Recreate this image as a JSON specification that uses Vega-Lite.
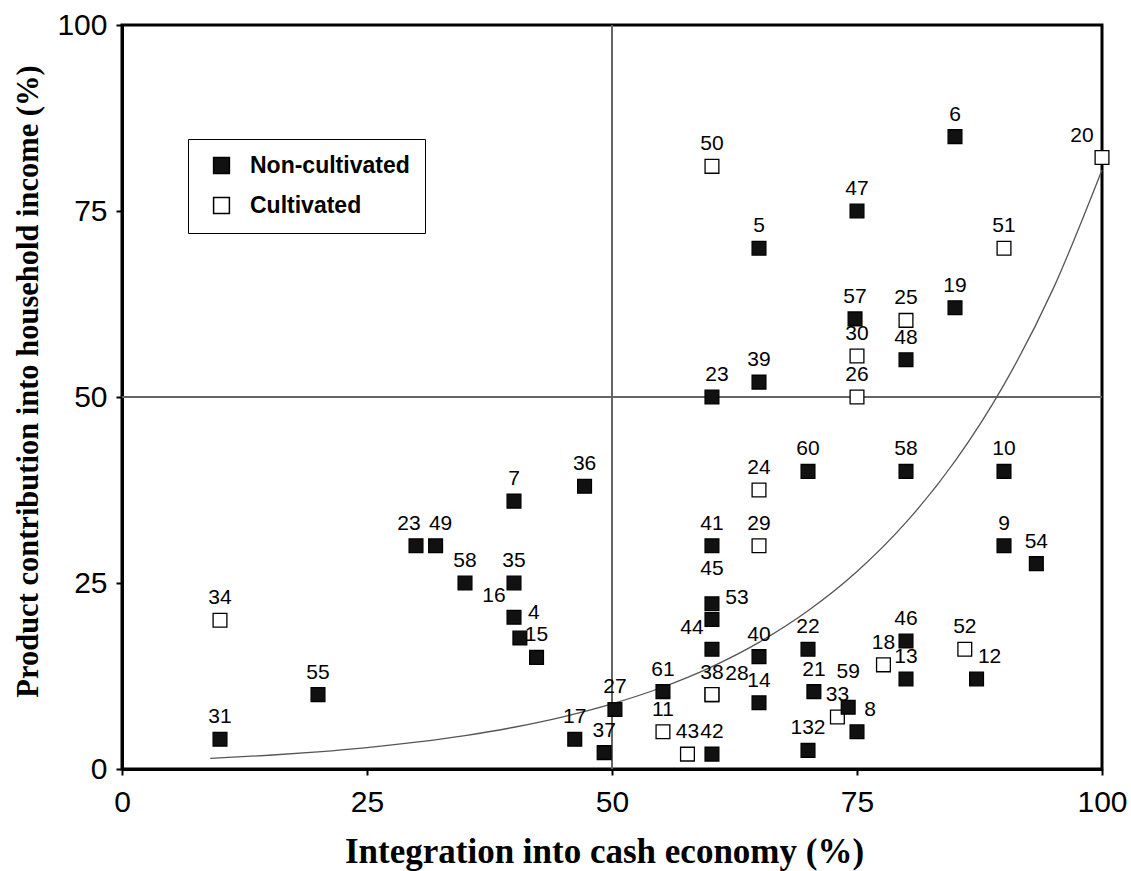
{
  "$schema": "https://vega.github.io/schema/vega-lite/v6.json",
  "width": 980,
  "height": 744,
  "autosize": {"type": "none"},
  "padding": {"left": 122, "top": 25, "right": 29, "bottom": 102},
  "background": "white",
  "config": {
    "view": {"stroke": "black", "strokeWidth": 3},
    "axis": {
      "labelFont": "Liberation Sans",
      "labelFontSize": 30,
      "labelColor": "black",
      "labelFlush": false,
      "labelOverlap": false,
      "tickColor": "black",
      "tickSize": 6,
      "tickWidth": 2,
      "domainColor": "black",
      "domainWidth": 3,
      "grid": false,
      "titleFont": "Liberation Serif",
      "titleFontSize": 32,
      "titleFontWeight": "bold",
      "titleColor": "black"
    }
  },
  "datasets": {
    "points": [
      {"label": "34", "x": 10, "y": 20, "type": "Cultivated"},
      {"label": "11", "x": 55.2, "y": 5, "type": "Cultivated"},
      {"label": "43", "x": 57.7, "y": 2, "type": "Cultivated"},
      {"label": "38", "x": 60.2, "y": 10, "type": "Cultivated"},
      {"label": "28", "x": 60.2, "y": 10, "type": "Cultivated"},
      {"label": "50", "x": 60.2, "y": 81, "type": "Cultivated"},
      {"label": "24", "x": 65, "y": 37.5, "type": "Cultivated"},
      {"label": "29", "x": 65, "y": 30, "type": "Cultivated"},
      {"label": "26", "x": 75, "y": 50, "type": "Cultivated"},
      {"label": "30", "x": 75, "y": 55.5, "type": "Cultivated"},
      {"label": "25", "x": 80, "y": 60.3, "type": "Cultivated"},
      {"label": "33", "x": 73, "y": 7, "type": "Cultivated"},
      {"label": "18", "x": 77.7, "y": 14, "type": "Cultivated"},
      {"label": "52", "x": 86, "y": 16.1, "type": "Cultivated"},
      {"label": "51", "x": 90, "y": 70, "type": "Cultivated"},
      {"label": "20", "x": 100, "y": 82.2, "type": "Cultivated"},
      {"label": "31", "x": 10, "y": 4, "type": "Non-cultivated"},
      {"label": "55", "x": 20, "y": 10, "type": "Non-cultivated"},
      {"label": "23", "x": 30, "y": 30, "type": "Non-cultivated"},
      {"label": "49", "x": 32, "y": 30, "type": "Non-cultivated"},
      {"label": "58", "x": 35, "y": 25, "type": "Non-cultivated"},
      {"label": "7", "x": 40, "y": 36, "type": "Non-cultivated"},
      {"label": "36", "x": 47.2, "y": 38, "type": "Non-cultivated"},
      {"label": "35", "x": 40, "y": 25, "type": "Non-cultivated"},
      {"label": "16", "x": 40, "y": 20.4, "type": "Non-cultivated"},
      {"label": "4", "x": 40.6, "y": 17.6, "type": "Non-cultivated"},
      {"label": "15", "x": 42.3, "y": 15, "type": "Non-cultivated"},
      {"label": "17", "x": 46.2, "y": 4, "type": "Non-cultivated"},
      {"label": "37", "x": 49.2, "y": 2.2, "type": "Non-cultivated"},
      {"label": "27", "x": 50.3, "y": 8, "type": "Non-cultivated"},
      {"label": "61", "x": 55.2, "y": 10.4, "type": "Non-cultivated"},
      {"label": "42", "x": 60.2, "y": 2, "type": "Non-cultivated"},
      {"label": "44", "x": 60.2, "y": 16.1, "type": "Non-cultivated"},
      {"label": "53", "x": 60.2, "y": 20.1, "type": "Non-cultivated"},
      {"label": "45", "x": 60.2, "y": 22.2, "type": "Non-cultivated"},
      {"label": "41", "x": 60.2, "y": 30, "type": "Non-cultivated"},
      {"label": "23", "x": 60.2, "y": 50, "type": "Non-cultivated"},
      {"label": "39", "x": 65, "y": 52, "type": "Non-cultivated"},
      {"label": "5", "x": 65, "y": 70, "type": "Non-cultivated"},
      {"label": "40", "x": 65, "y": 15.1, "type": "Non-cultivated"},
      {"label": "14", "x": 65, "y": 8.9, "type": "Non-cultivated"},
      {"label": "60", "x": 70, "y": 40, "type": "Non-cultivated"},
      {"label": "22", "x": 70, "y": 16.1, "type": "Non-cultivated"},
      {"label": "21", "x": 70.6, "y": 10.4, "type": "Non-cultivated"},
      {"label": "132", "x": 70, "y": 2.5, "type": "Non-cultivated"},
      {"label": "59", "x": 74.1, "y": 8.3, "type": "Non-cultivated"},
      {"label": "8", "x": 75, "y": 5, "type": "Non-cultivated"},
      {"label": "47", "x": 75, "y": 75, "type": "Non-cultivated"},
      {"label": "57", "x": 74.8, "y": 60.5, "type": "Non-cultivated"},
      {"label": "48", "x": 80, "y": 55, "type": "Non-cultivated"},
      {"label": "58", "x": 80, "y": 40, "type": "Non-cultivated"},
      {"label": "46", "x": 80, "y": 17.2, "type": "Non-cultivated"},
      {"label": "13", "x": 80, "y": 12.1, "type": "Non-cultivated"},
      {"label": "6", "x": 85, "y": 85, "type": "Non-cultivated"},
      {"label": "19", "x": 85, "y": 62, "type": "Non-cultivated"},
      {"label": "10", "x": 90, "y": 40, "type": "Non-cultivated"},
      {"label": "9", "x": 90, "y": 30, "type": "Non-cultivated"},
      {"label": "54", "x": 93.3, "y": 27.6, "type": "Non-cultivated"},
      {"label": "12", "x": 87.2, "y": 12.1, "type": "Non-cultivated"}
    ],
    "curve": [
      {"x": 9, "y": 1.42},
      {"x": 15, "y": 1.85},
      {"x": 20, "y": 2.31},
      {"x": 25, "y": 2.88},
      {"x": 30, "y": 3.6},
      {"x": 35, "y": 4.49},
      {"x": 40, "y": 5.61},
      {"x": 45, "y": 7.01},
      {"x": 50, "y": 8.75},
      {"x": 55, "y": 10.92},
      {"x": 60, "y": 13.63},
      {"x": 65, "y": 17.02},
      {"x": 70, "y": 21.26},
      {"x": 75, "y": 26.54},
      {"x": 80, "y": 33.14},
      {"x": 85, "y": 41.37},
      {"x": 90, "y": 51.66},
      {"x": 95, "y": 64.5},
      {"x": 100, "y": 80.5}
    ]
  },
  "data": {"name": "points"},
  "layer": [
    {
      "mark": {"type": "rule", "color": "#666666", "strokeWidth": 1.5},
      "encoding": {"x": {"datum": 50, "type": "quantitative"}}
    },
    {
      "mark": {"type": "rule", "color": "#666666", "strokeWidth": 1.5},
      "encoding": {"y": {"datum": 50, "type": "quantitative"}}
    },
    {
      "data": {"name": "curve"},
      "mark": {"type": "line", "color": "#555555", "strokeWidth": 1.3, "interpolate": "monotone"},
      "encoding": {
        "x": {"field": "x", "type": "quantitative", "title": "Integration into cash economy (%)"},
        "y": {"field": "y", "type": "quantitative", "title": "Product contribution into household income (%)"}
      }
    },
    {
      "mark": {"type": "point", "shape": "square", "filled": true, "size": 190, "stroke": "black", "strokeWidth": 1.3, "opacity": 1, "clip": false},
      "encoding": {
        "x": {
          "field": "x", "type": "quantitative",
          "scale": {"domain": [0, 100], "nice": false},
          "axis": {"values": [0, 25, 50, 75, 100], "labelPadding": 12, "title": "Integration into cash economy (%)", "titleFontSize": 35, "titleY": 93, "titleX": 482, "titleBaseline": "alphabetic"}
        },
        "y": {
          "field": "y", "type": "quantitative",
          "scale": {"domain": [0, 100], "nice": false},
          "axis": {"values": [0, 25, 50, 75, 100], "labelPadding": 9, "title": "Product contribution into household income (%)", "titleFontSize": 30.5, "titleX": -94, "titleY": 356, "titleAngle": -90, "titleBaseline": "middle", "titleAlign": "center"}
        },
        "fill": {
          "field": "type", "type": "nominal",
          "scale": {"domain": ["Non-cultivated", "Cultivated"], "range": ["#111111", "white"]},
          "legend": {
            "orient": "none", "legendX": 66, "legendY": 114, "title": null,
            "strokeColor": "black", "fillColor": "white",
            "padding": 15, "symbolOffset": 7,
            "symbolType": "square", "symbolSize": 250, "symbolStrokeColor": "black", "symbolStrokeWidth": 1.5,
            "labelFont": "Liberation Sans", "labelFontWeight": "bold", "labelFontSize": 23, "labelColor": "black",
            "labelOffset": 17, "rowPadding": 16,
            "labelExpr": "datum.label + '\u00a0\u00a0\u00a0\u00a0'"
          }
        }
      }
    },
    {
      "transform": [{"filter": {"not": {"field": "label", "oneOf": ["16", "44", "20", "4", "12", "8", "53", "28", "45", "59", "23", "49"]}}}],
      "mark": {"type": "text", "font": "Liberation Sans", "fontSize": 21, "color": "black", "baseline": "middle", "align": "center", "dy": -22},
      "encoding": {"x": {"field": "x", "type": "quantitative"}, "y": {"field": "y", "type": "quantitative"}, "text": {"field": "label"}}
    },
    {
      "transform": [{"filter": {"or": [{"field": "label", "equal": "49"}, {"and": [{"field": "label", "equal": "23"}, {"field": "x", "gt": 40}]}]}}],
      "mark": {"type": "text", "font": "Liberation Sans", "fontSize": 21, "color": "black", "baseline": "middle", "align": "center", "dy": -22, "dx": 5},
      "encoding": {"x": {"field": "x", "type": "quantitative"}, "y": {"field": "y", "type": "quantitative"}, "text": {"field": "label"}}
    },
    {
      "transform": [{"filter": {"and": [{"field": "label", "equal": "23"}, {"field": "x", "lt": 40}]}}],
      "mark": {"type": "text", "font": "Liberation Sans", "fontSize": 21, "color": "black", "baseline": "middle", "align": "center", "dy": -22, "dx": -7},
      "encoding": {"x": {"field": "x", "type": "quantitative"}, "y": {"field": "y", "type": "quantitative"}, "text": {"field": "label"}}
    },
    {
      "transform": [{"filter": {"field": "label", "oneOf": ["16", "44", "20"]}}],
      "mark": {"type": "text", "font": "Liberation Sans", "fontSize": 21, "color": "black", "baseline": "middle", "align": "center", "dy": -21, "dx": -20},
      "encoding": {"x": {"field": "x", "type": "quantitative"}, "y": {"field": "y", "type": "quantitative"}, "text": {"field": "label"}}
    },
    {
      "transform": [{"filter": {"field": "label", "oneOf": ["4"]}}],
      "mark": {"type": "text", "font": "Liberation Sans", "fontSize": 21, "color": "black", "baseline": "middle", "align": "center", "dy": -25, "dx": 14},
      "encoding": {"x": {"field": "x", "type": "quantitative"}, "y": {"field": "y", "type": "quantitative"}, "text": {"field": "label"}}
    },
    {
      "transform": [{"filter": {"field": "label", "oneOf": ["12", "8"]}}],
      "mark": {"type": "text", "font": "Liberation Sans", "fontSize": 21, "color": "black", "baseline": "middle", "align": "center", "dy": -22, "dx": 13},
      "encoding": {"x": {"field": "x", "type": "quantitative"}, "y": {"field": "y", "type": "quantitative"}, "text": {"field": "label"}}
    },
    {
      "transform": [{"filter": {"field": "label", "oneOf": ["53", "28"]}}],
      "mark": {"type": "text", "font": "Liberation Sans", "fontSize": 21, "color": "black", "baseline": "middle", "align": "center", "dy": -21, "dx": 25},
      "encoding": {"x": {"field": "x", "type": "quantitative"}, "y": {"field": "y", "type": "quantitative"}, "text": {"field": "label"}}
    },
    {
      "transform": [{"filter": {"field": "label", "oneOf": ["45", "59"]}}],
      "mark": {"type": "text", "font": "Liberation Sans", "fontSize": 21, "color": "black", "baseline": "middle", "align": "center", "dy": -35},
      "encoding": {"x": {"field": "x", "type": "quantitative"}, "y": {"field": "y", "type": "quantitative"}, "text": {"field": "label"}}
    }
  ]
}
